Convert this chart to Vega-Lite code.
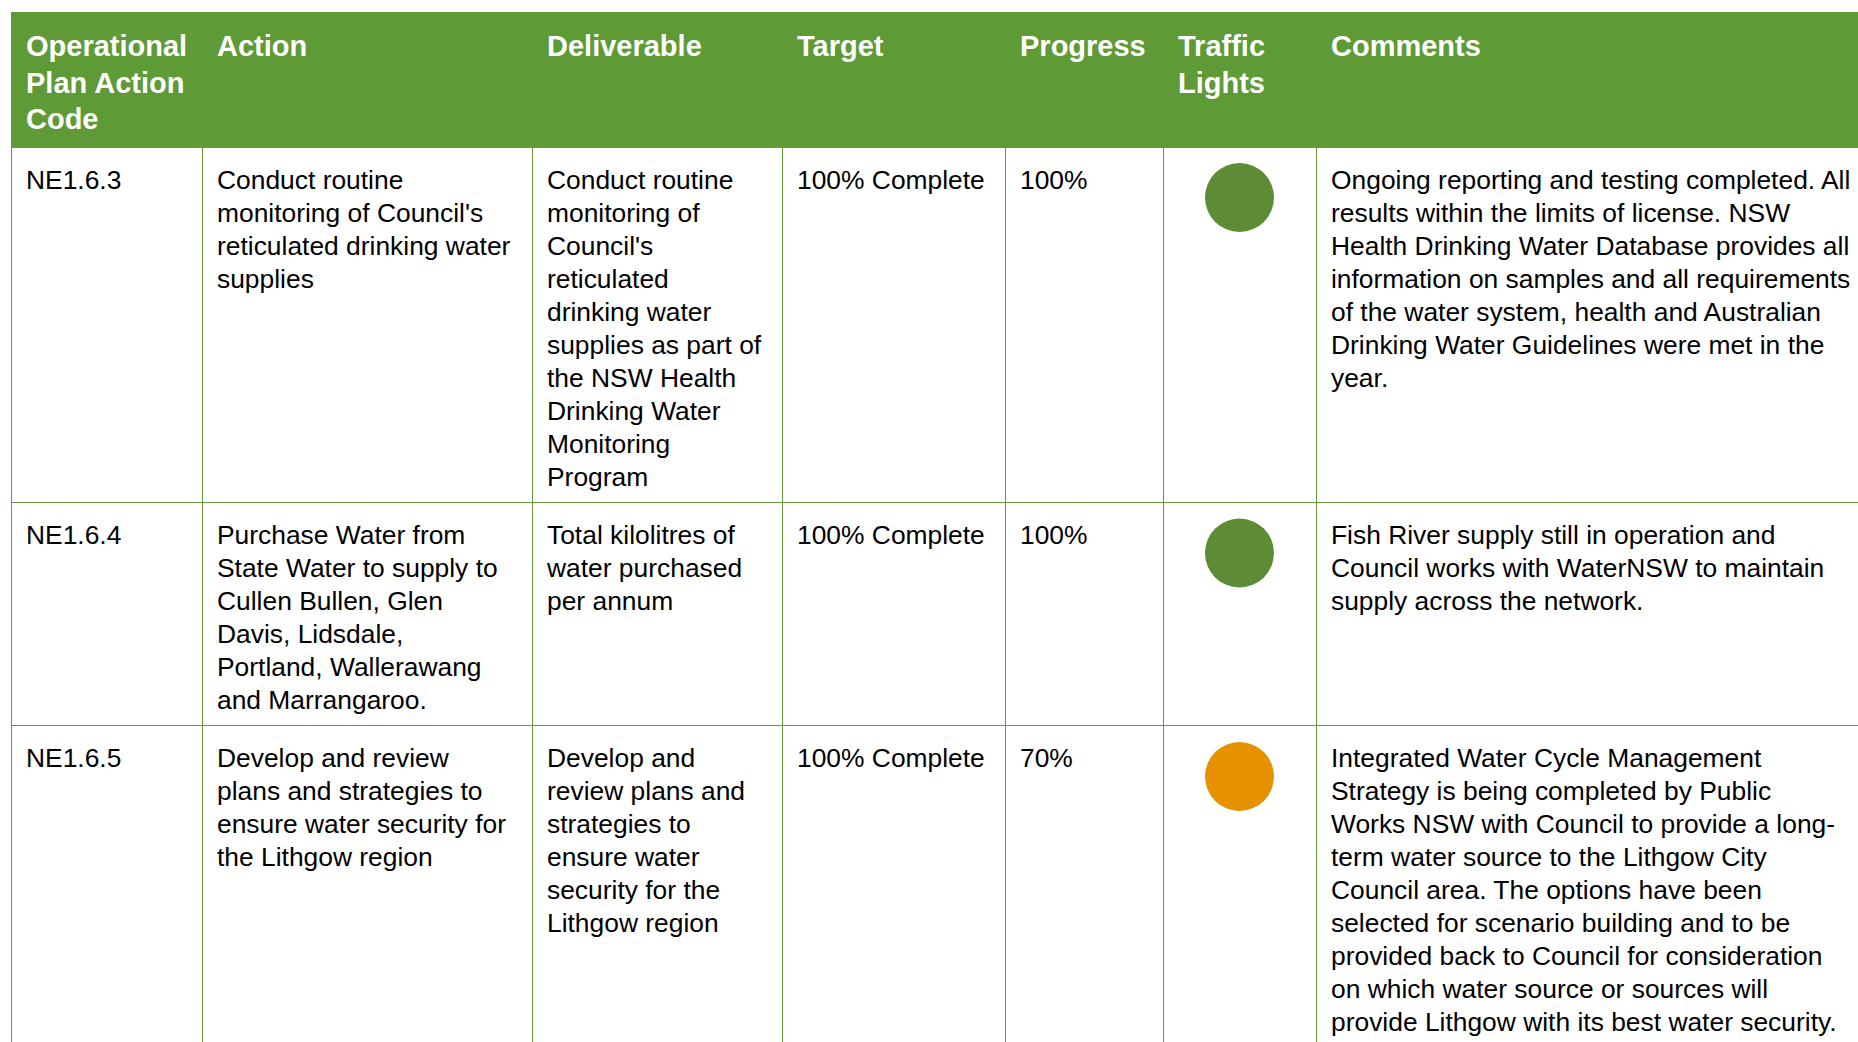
{
  "$schema": "https://vega.github.io/schema/vega-lite/v6.json",
  "background": "white",
  "padding": {"left": 10, "top": 11, "right": 0, "bottom": 0},
  "columns": 7,
  "spacing": 0,
  "align": "each",
  "bounds": "flush",
  "config": {
    "view": {"stroke": "#64993c", "strokeWidth": 1},
    "text": {"font": "Liberation Sans", "fontSize": 26.4, "lineHeight": 33.1, "lineBreak": "\n", "fill": "#000000", "align": "left", "baseline": "alphabetic"}
  },
  "datasets": {
    "table": [
      {"code": "NE1.6.3", "action": "Conduct routine\nmonitoring of Council's\nreticulated drinking water\nsupplies", "deliverable": "Conduct routine\nmonitoring of\nCouncil's\nreticulated\ndrinking water\nsupplies as part of\nthe NSW Health\nDrinking Water\nMonitoring\nProgram", "target": "100% Complete", "progress": "100%", "light": "Green", "comments": "Ongoing reporting and testing completed. All\nresults within the limits of license. NSW\nHealth Drinking Water Database provides all\ninformation on samples and all requirements\nof the water system, health and Australian\nDrinking Water Guidelines were met in the\nyear."},
      {"code": "NE1.6.4", "action": "Purchase Water from\nState Water to supply to\nCullen Bullen, Glen\nDavis, Lidsdale,\nPortland, Wallerawang\nand Marrangaroo.", "deliverable": "Total kilolitres of\nwater purchased\nper annum", "target": "100% Complete", "progress": "100%", "light": "Green", "comments": "Fish River supply still in operation and\nCouncil works with WaterNSW to maintain\nsupply across the network."},
      {"code": "NE1.6.5", "action": "Develop and review\nplans and strategies to\nensure water security for\nthe Lithgow region", "deliverable": "Develop and\nreview plans and\nstrategies to\nensure water\nsecurity for the\nLithgow region", "target": "100% Complete", "progress": "70%", "light": "Amber", "comments": "Integrated Water Cycle Management\nStrategy is being completed by Public\nWorks NSW with Council to provide a long-\nterm water source to the Lithgow City\nCouncil area. The options have been\nselected for scenario building and to be\nprovided back to Council for consideration\non which water source or sources will\nprovide Lithgow with its best water security."}
    ],
    "header": [
      {"key": "code", "label": "Operational\nPlan Action\nCode"},
      {"key": "action", "label": "Action"},
      {"key": "deliverable", "label": "Deliverable"},
      {"key": "target", "label": "Target"},
      {"key": "progress", "label": "Progress"},
      {"key": "light", "label": "Traffic\nLights"},
      {"key": "comments", "label": "Comments"}
    ]
  },
  "concat": [
    {"width": 191, "height": 135, "view": {"fill": "#5e9a35", "stroke": "#5e9a35"}, "data": {"name": "header"}, "transform": [{"filter": "datum.key === 'code'"}], "mark": {"type": "text", "fontWeight": "bold", "fontSize": 29, "lineHeight": 36.7, "fill": "#ffffff"}, "encoding": {"text": {"field": "label"}, "x": {"value": 15}, "y": {"value": 44}}},
    {"width": 330, "height": 135, "view": {"fill": "#5e9a35", "stroke": "#5e9a35"}, "data": {"name": "header"}, "transform": [{"filter": "datum.key === 'action'"}], "mark": {"type": "text", "fontWeight": "bold", "fontSize": 29, "lineHeight": 36.7, "fill": "#ffffff"}, "encoding": {"text": {"field": "label"}, "x": {"value": 15}, "y": {"value": 44}}},
    {"width": 250, "height": 135, "view": {"fill": "#5e9a35", "stroke": "#5e9a35"}, "data": {"name": "header"}, "transform": [{"filter": "datum.key === 'deliverable'"}], "mark": {"type": "text", "fontWeight": "bold", "fontSize": 29, "lineHeight": 36.7, "fill": "#ffffff"}, "encoding": {"text": {"field": "label"}, "x": {"value": 15}, "y": {"value": 44}}},
    {"width": 223, "height": 135, "view": {"fill": "#5e9a35", "stroke": "#5e9a35"}, "data": {"name": "header"}, "transform": [{"filter": "datum.key === 'target'"}], "mark": {"type": "text", "fontWeight": "bold", "fontSize": 29, "lineHeight": 36.7, "fill": "#ffffff"}, "encoding": {"text": {"field": "label"}, "x": {"value": 15}, "y": {"value": 44}}},
    {"width": 158, "height": 135, "view": {"fill": "#5e9a35", "stroke": "#5e9a35"}, "data": {"name": "header"}, "transform": [{"filter": "datum.key === 'progress'"}], "mark": {"type": "text", "fontWeight": "bold", "fontSize": 29, "lineHeight": 36.7, "fill": "#ffffff"}, "encoding": {"text": {"field": "label"}, "x": {"value": 15}, "y": {"value": 44}}},
    {"width": 153, "height": 135, "view": {"fill": "#5e9a35", "stroke": "#5e9a35"}, "data": {"name": "header"}, "transform": [{"filter": "datum.key === 'light'"}], "mark": {"type": "text", "fontWeight": "bold", "fontSize": 29, "lineHeight": 36.7, "fill": "#ffffff"}, "encoding": {"text": {"field": "label"}, "x": {"value": 15}, "y": {"value": 44}}},
    {"width": 542, "height": 135, "view": {"fill": "#5e9a35", "stroke": "#5e9a35"}, "data": {"name": "header"}, "transform": [{"filter": "datum.key === 'comments'"}], "mark": {"type": "text", "fontWeight": "bold", "fontSize": 29, "lineHeight": 36.7, "fill": "#ffffff"}, "encoding": {"text": {"field": "label"}, "x": {"value": 15}, "y": {"value": 44}}},

    {"width": 191, "height": 355, "data": {"name": "table"}, "transform": [{"filter": "datum.code === 'NE1.6.3'"}], "mark": {"type": "text"}, "encoding": {"text": {"field": "code"}, "x": {"value": 15}, "y": {"value": 41.5}}},
    {"width": 330, "height": 355, "data": {"name": "table"}, "transform": [{"filter": "datum.code === 'NE1.6.3'"}], "mark": {"type": "text"}, "encoding": {"text": {"field": "action"}, "x": {"value": 15}, "y": {"value": 41.5}}},
    {"width": 250, "height": 355, "data": {"name": "table"}, "transform": [{"filter": "datum.code === 'NE1.6.3'"}], "mark": {"type": "text"}, "encoding": {"text": {"field": "deliverable"}, "x": {"value": 15}, "y": {"value": 41.5}}},
    {"width": 223, "height": 355, "data": {"name": "table"}, "transform": [{"filter": "datum.code === 'NE1.6.3'"}], "mark": {"type": "text"}, "encoding": {"text": {"field": "target"}, "x": {"value": 15}, "y": {"value": 41.5}}},
    {"width": 158, "height": 355, "data": {"name": "table"}, "transform": [{"filter": "datum.code === 'NE1.6.3'"}], "mark": {"type": "text"}, "encoding": {"text": {"field": "progress"}, "x": {"value": 15}, "y": {"value": 41.5}}},
    {"width": 153, "height": 355, "data": {"name": "table"}, "transform": [{"filter": "datum.code === 'NE1.6.3'"}], "mark": {"type": "circle", "size": 4761, "opacity": 1}, "encoding": {"color": {"field": "light", "type": "nominal", "scale": {"domain": ["Green", "Amber"], "range": ["#5e8b35", "#e69100"]}, "legend": null}, "y": {"value": 50.5}}},
    {"width": 542, "height": 355, "data": {"name": "table"}, "transform": [{"filter": "datum.code === 'NE1.6.3'"}], "mark": {"type": "text"}, "encoding": {"text": {"field": "comments"}, "x": {"value": 15}, "y": {"value": 41.5}}},

    {"width": 191, "height": 223, "data": {"name": "table"}, "transform": [{"filter": "datum.code === 'NE1.6.4'"}], "mark": {"type": "text"}, "encoding": {"text": {"field": "code"}, "x": {"value": 15}, "y": {"value": 41.5}}},
    {"width": 330, "height": 223, "data": {"name": "table"}, "transform": [{"filter": "datum.code === 'NE1.6.4'"}], "mark": {"type": "text"}, "encoding": {"text": {"field": "action"}, "x": {"value": 15}, "y": {"value": 41.5}}},
    {"width": 250, "height": 223, "data": {"name": "table"}, "transform": [{"filter": "datum.code === 'NE1.6.4'"}], "mark": {"type": "text"}, "encoding": {"text": {"field": "deliverable"}, "x": {"value": 15}, "y": {"value": 41.5}}},
    {"width": 223, "height": 223, "data": {"name": "table"}, "transform": [{"filter": "datum.code === 'NE1.6.4'"}], "mark": {"type": "text"}, "encoding": {"text": {"field": "target"}, "x": {"value": 15}, "y": {"value": 41.5}}},
    {"width": 158, "height": 223, "data": {"name": "table"}, "transform": [{"filter": "datum.code === 'NE1.6.4'"}], "mark": {"type": "text"}, "encoding": {"text": {"field": "progress"}, "x": {"value": 15}, "y": {"value": 41.5}}},
    {"width": 153, "height": 223, "data": {"name": "table"}, "transform": [{"filter": "datum.code === 'NE1.6.4'"}], "mark": {"type": "circle", "size": 4761, "opacity": 1}, "encoding": {"color": {"field": "light", "type": "nominal", "scale": {"domain": ["Green", "Amber"], "range": ["#5e8b35", "#e69100"]}, "legend": null}, "y": {"value": 51}}},
    {"width": 542, "height": 223, "data": {"name": "table"}, "transform": [{"filter": "datum.code === 'NE1.6.4'"}], "mark": {"type": "text"}, "encoding": {"text": {"field": "comments"}, "x": {"value": 15}, "y": {"value": 41.5}}},

    {"width": 191, "height": 317, "data": {"name": "table"}, "transform": [{"filter": "datum.code === 'NE1.6.5'"}], "mark": {"type": "text"}, "encoding": {"text": {"field": "code"}, "x": {"value": 15}, "y": {"value": 41.5}}},
    {"width": 330, "height": 317, "data": {"name": "table"}, "transform": [{"filter": "datum.code === 'NE1.6.5'"}], "mark": {"type": "text"}, "encoding": {"text": {"field": "action"}, "x": {"value": 15}, "y": {"value": 41.5}}},
    {"width": 250, "height": 317, "data": {"name": "table"}, "transform": [{"filter": "datum.code === 'NE1.6.5'"}], "mark": {"type": "text"}, "encoding": {"text": {"field": "deliverable"}, "x": {"value": 15}, "y": {"value": 41.5}}},
    {"width": 223, "height": 317, "data": {"name": "table"}, "transform": [{"filter": "datum.code === 'NE1.6.5'"}], "mark": {"type": "text"}, "encoding": {"text": {"field": "target"}, "x": {"value": 15}, "y": {"value": 41.5}}},
    {"width": 158, "height": 317, "data": {"name": "table"}, "transform": [{"filter": "datum.code === 'NE1.6.5'"}], "mark": {"type": "text"}, "encoding": {"text": {"field": "progress"}, "x": {"value": 15}, "y": {"value": 41.5}}},
    {"width": 153, "height": 317, "data": {"name": "table"}, "transform": [{"filter": "datum.code === 'NE1.6.5'"}], "mark": {"type": "circle", "size": 4761, "opacity": 1}, "encoding": {"color": {"field": "light", "type": "nominal", "scale": {"domain": ["Green", "Amber"], "range": ["#5e8b35", "#e69100"]}, "legend": null}, "y": {"value": 51.5}}},
    {"width": 542, "height": 317, "data": {"name": "table"}, "transform": [{"filter": "datum.code === 'NE1.6.5'"}], "mark": {"type": "text"}, "encoding": {"text": {"field": "comments"}, "x": {"value": 15}, "y": {"value": 41.5}}}
  ]
}
